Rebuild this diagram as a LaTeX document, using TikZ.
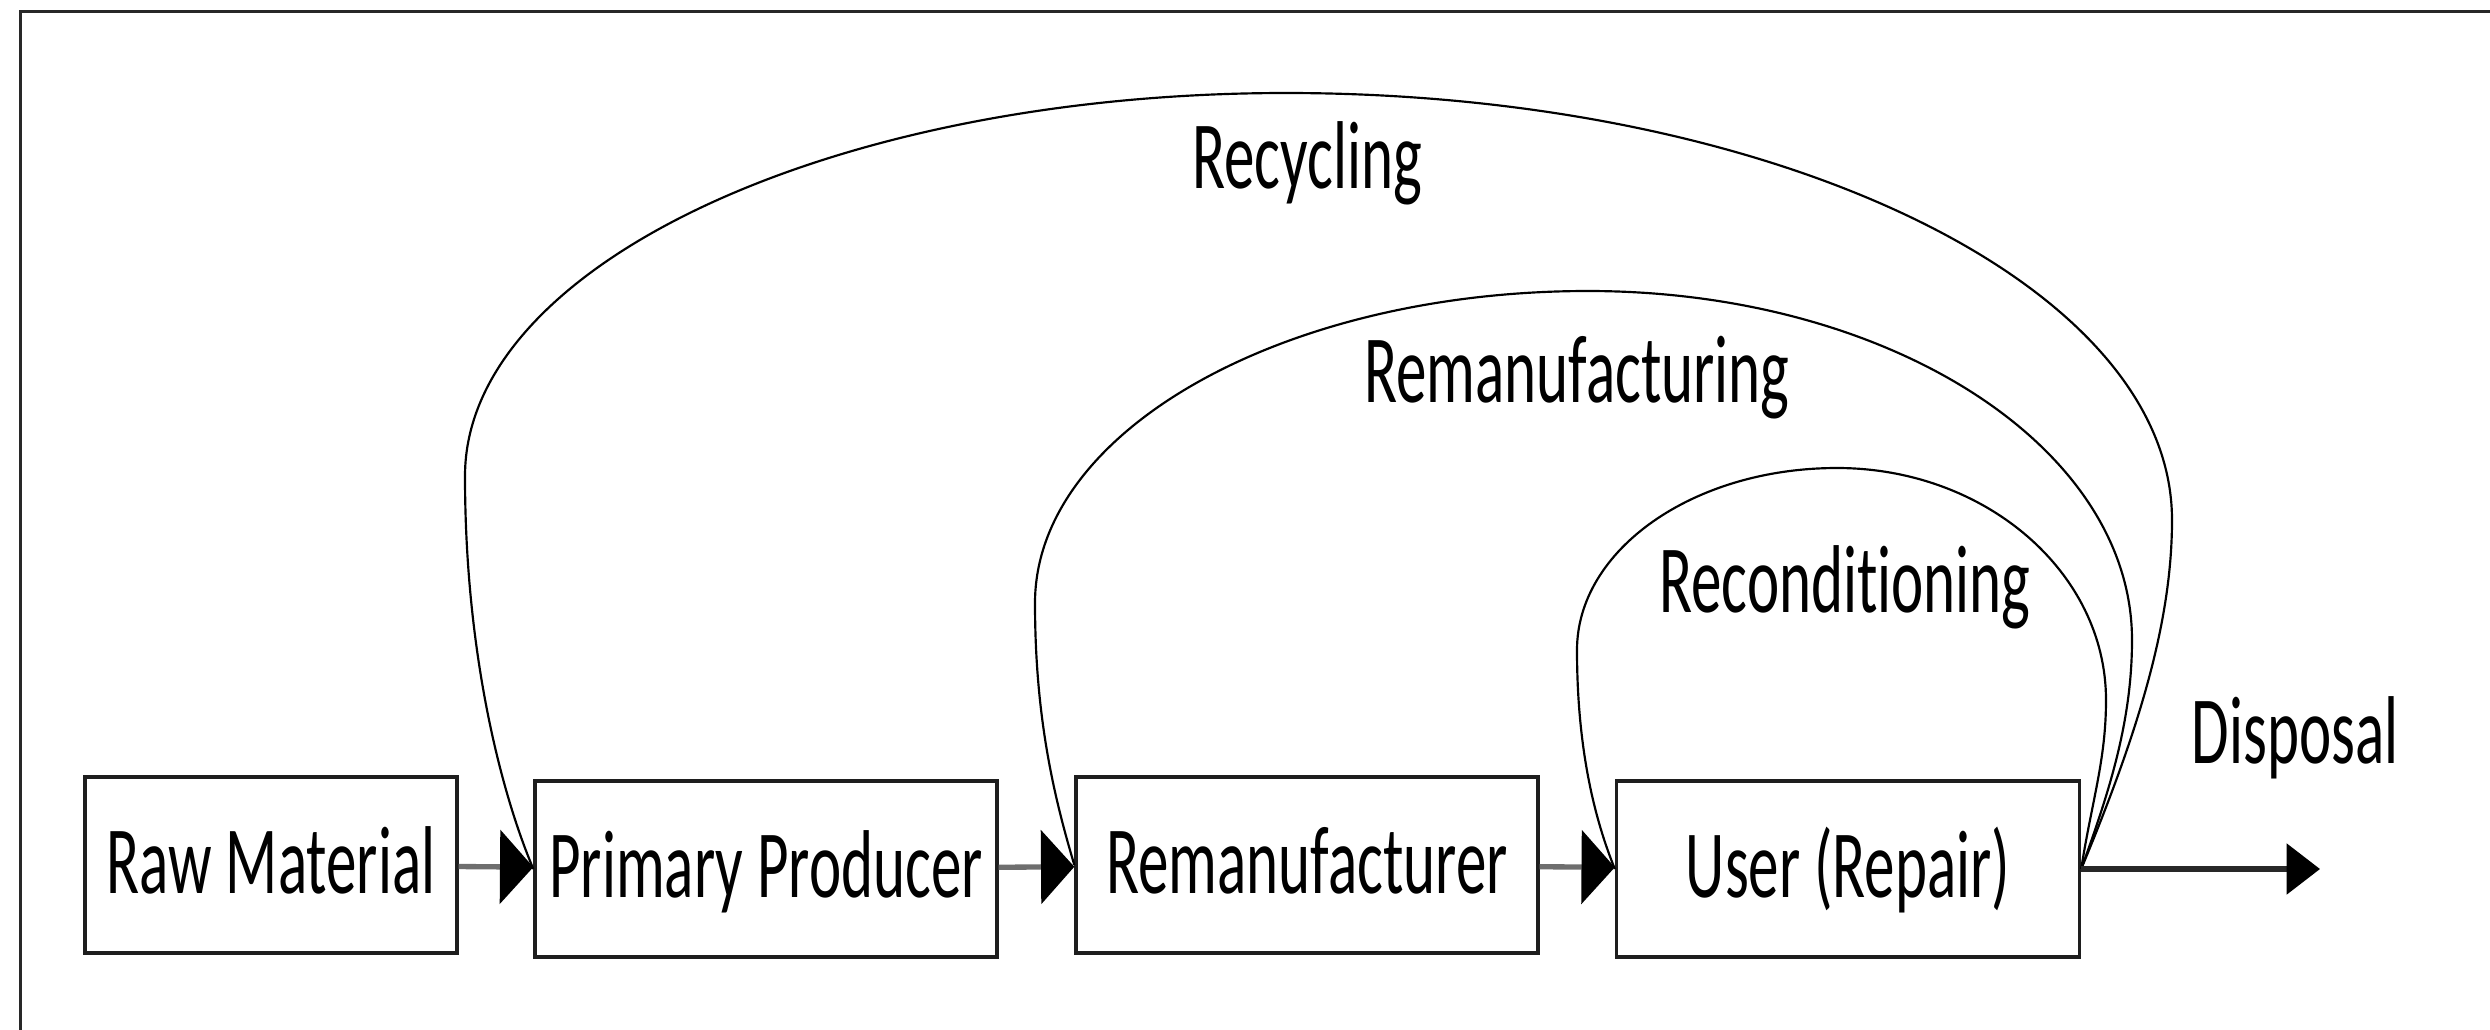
\documentclass[tikz,border=0pt]{standalone}
\usepackage{fontspec}
\setmainfont{Carlito}[Ligatures=NoCommon]
\usetikzlibrary{arrows.meta}

\newcommand{\talltext}[1]{\scalebox{1}[1.58]{#1}}

\tikzset{
	stage/.style={draw={rgb, 255:red, 30; green, 30; blue, 30}, line width=1pt, minimum height=52.8pt, minimum width=138.6pt, inner sep=0pt, text height=21pt, text depth=4pt, font=\fontsize{18.3}{22}\selectfont},
	flow/.style={draw={rgb, 255:red, 110; green, 110; blue, 110}, line width=1.6pt, -{Triangle[length=10pt,width=22pt,color=black]}},
	loopline/.style={line width=0.65pt},
	looptext/.style={anchor=base, inner sep=0pt, font=\fontsize{18.3}{22}\selectfont},
}

\begin{document}
\begin{tikzpicture}[x=0.3pt,y=0.3pt,yscale=-1,xscale=1]
	\useasboundingbox (0,0) rectangle (2490,1030);

	%Frame
	\draw [line width=0.9pt, color={rgb, 255:red, 40; green, 40; blue, 40}] (20,1060) -- (20,11) -- (2520,11) ;

	%Shape: Rectangle [raw]
	\node [stage, minimum width=111.6pt] (raw) at (271,865) {\talltext{Raw Material}};
	%Shape: Rectangle [prim]
	\node [stage] (prim) at (766,869) {\talltext{Primary Producer}};
	%Shape: Rectangle [reman]
	\node [stage] (reman) at (1307,865) {\talltext{Remanufacturer}};
	%Shape: Rectangle [user]
	\node [stage, minimum width=138.9pt] (user) at (1848,869) {\talltext{User (Repair)}};

	%Curve Lines [recycling]
	\draw [loopline] (user.east) .. controls (2140,728) and (2172,620) .. (2172,520) .. controls (2172,284) and (1775,93) .. (1286,93) .. controls (833,93) and (465,265) .. (465,476) .. controls (465,650) and (500,790) .. (prim.west) ;
	%Curve Lines [remanufacturing]
	\draw [loopline] (user.east) .. controls (2110,790) and (2132,720) .. (2132,640) .. controls (2132,447) and (1890,291) .. (1588,291) .. controls (1283,291) and (1035,431) .. (1035,603) .. controls (1035,720) and (1055,800) .. (reman.west) ;
	%Curve Lines [reconditioning]
	\draw [loopline] (user.east) .. controls (2092,800) and (2106,760) .. (2106,700) .. controls (2106,572) and (1985,468) .. (1837,468) .. controls (1693,468) and (1577,550) .. (1577,650) .. controls (1577,750) and (1595,820) .. (user.west) ;

	%Straight Lines
	\draw [flow] (raw) -- (prim) ;
	\draw [flow] (prim) -- (reman) ;
	\draw [flow] (reman) -- (user) ;

	%Straight Lines [disposal]
	\coordinate (dispend) at (2320,869) ;
	\draw [line width=1.6pt, color={rgb, 255:red, 40; green, 40; blue, 40}, -{Triangle[length=10pt,width=15pt,color=black]}] (user.east) -- (dispend) ;

	% Text Node
	\node [looptext] (recyc) at (1307,188) {\talltext{Recycling}};
	% Text Node
	\node [looptext] (remtext) at (1577,402) {\talltext{Remanufacturing}};
	% Text Node
	\node [looptext] (recond) at (1845,612) {\talltext{Reconditioning}};
	% Text Node
	\node [looptext] (disp) at (2295,763) {\talltext{Disposal}};
\end{tikzpicture}
\end{document}
